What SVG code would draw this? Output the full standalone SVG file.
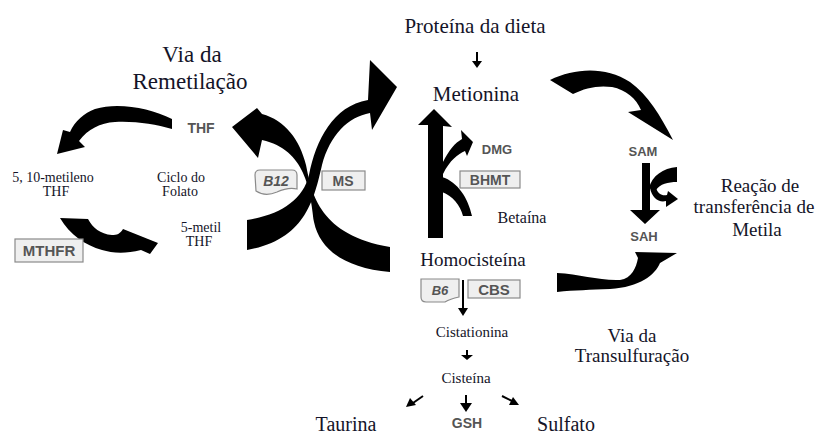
<svg xmlns="http://www.w3.org/2000/svg" width="824" height="436" viewBox="0 0 824 436">
<style>
.s{font-family:"Liberation Serif","Times New Roman",serif;fill:#141428;text-anchor:middle}
.g{font-family:"Liberation Sans",Arial,sans-serif;fill:#555;font-weight:bold;text-anchor:middle}
.box{fill:#efefef;stroke:#8a8a8a;stroke-width:1.2}
.blk{fill:#000}
.ln{stroke:#000;stroke-width:2;fill:none}
</style>
<rect width="824" height="436" fill="#fff"/>

<g id="connectors">
  <path class="blk" d="M247,220 C280,215 303,200 309,175 C316,140 333,106 368,100 L370,60 L397,87 L372,130 L370,113 C348,117 330,135 322,165 C314,200 305,240 247,250 Z"/>
  <path class="blk" d="M232,127 L257,108 L262,114 C285,120 300,140 306,165 C312,195 320,235 390,247 L390,272 C345,268 320,250 314,222 C310,190 306,150 262,140 L258,158 Z"/>
  <path class="blk" d="M172,119 C150,108 118,102 95,109 C84,113 75,121 70,132 L63,130 L57,154 L85,147 L79,141 C88,129 100,123 115,122 C135,121 155,124 172,129 Z"/>
  <path class="blk" d="M60,218 L88,219 C93,228 100,234 112,235 C117,235 120,234 123,229 L158,243 L150,254 L141,250 C125,254 112,253 102,250 C85,245 70,235 60,218 Z"/>
  <path class="blk" d="M428,238 L428,125 L418,125 L434,109 L452,127 L443,126 L443,238 Z"/>
  <path class="blk" d="M443,162 C449,150 455,143 462,139 L461,130 L473,142 L467,156 L465,151 C458,154 450,160 443,174 Z"/>
  <path class="blk" d="M442,177 C458,182 468,198 472,216 L463,216 C460,205 453,196 442,192 Z"/>
  <path class="blk" d="M550,80 C575,68 605,66 630,82 C648,95 660,115 673,140 L628,112 L641,110 C636,98 626,90 612,87 C598,85 585,88 573,94 Z"/>
  <path class="blk" d="M642,163 L650,163 L650,210 L660,210 L645,224 L630,210 L642,210 Z"/>
  <path class="blk" d="M677,167 C663,168 652,176 649,188 L656,190 C660,184 668,182 677,182 Z"/>
  <path class="blk" d="M650,188 C652,198 659,203 666,201 L666,207 L678,199 L668,191 L667,195 C662,196 658,194 656,188 Z"/>
  <path class="blk" d="M557,273 C580,274 600,281 620,280 C632,278 636,268 638,258 L635,252 L677,253 L660,263 C655,275 640,287 610,289 C590,290 575,290 557,292 Z"/>
  <line class="ln" x1="477" y1="52" x2="477" y2="62"/>
  <path class="blk" d="M472,61 L482,61 L477,68 Z"/>
  <line class="ln" x1="463" y1="280" x2="463" y2="309"/>
  <path class="blk" d="M458,308 L468,308 L463,316 Z"/>
  <line class="ln" x1="467" y1="350" x2="467" y2="356"/>
  <path class="blk" d="M461,355 L473,355 L467,360 Z"/>
  <line class="ln" x1="466" y1="395" x2="466" y2="404"/>
  <path class="blk" d="M460,403 L472,403 L466,412 Z"/>
  <line class="ln" x1="423" y1="396" x2="413" y2="403"/>
  <path class="blk" d="M406,407 L410,398 L416,405 Z"/>
  <line class="ln" x1="502" y1="396" x2="512" y2="401"/>
  <path class="blk" d="M519,405 L509,405 L513,397 Z"/>
</g>

<g id="n-proteina"><text class="s" x="475" y="33" font-size="21">Proteína da dieta</text></g>
<g id="n-remetilacao"><text class="s" x="192" y="62" font-size="23">Via da</text><text class="s" x="190" y="89" font-size="23">Remetilação</text></g>
<g id="n-metionina"><text class="s" x="476" y="101" font-size="21">Metionina</text></g>
<g id="n-thf"><text class="g" x="201" y="133" font-size="14">THF</text></g>
<g id="n-metileno"><text class="s" x="53" y="182" font-size="14">5, 10-metileno</text><text class="s" x="56" y="196" font-size="14">THF</text></g>
<g id="n-folato"><text class="s" x="181" y="182" font-size="14">Ciclo do</text><text class="s" x="180" y="196" font-size="14">Folato</text></g>
<g id="n-metil"><text class="s" x="201" y="232" font-size="14">5-metil</text><text class="s" x="199" y="246" font-size="14">THF</text></g>
<g id="n-mthfr"><rect class="box" x="15" y="239" width="68" height="23"/><text class="g" x="49" y="256" font-size="15">MTHFR</text></g>
<g id="n-b12"><path class="box" d="M260,170 H292 Q297,170 297,175 V189 Q288,187 277,192 Q265,197 256,191 L255,175 Q255,170 260,170 Z"/><text class="g" x="276" y="186" font-size="14" font-style="italic">B12</text></g>
<g id="n-ms"><rect class="box" x="322" y="171" width="43" height="19"/><text class="g" x="343" y="186" font-size="14">MS</text></g>
<g id="n-dmg"><text class="g" x="497" y="154" font-size="13">DMG</text></g>
<g id="n-bhmt"><rect class="box" x="460" y="171" width="60" height="17"/><text class="g" x="490" y="185" font-size="14">BHMT</text></g>
<g id="n-betaina"><text class="s" x="522" y="223" font-size="16">Betaína</text></g>
<g id="n-homocisteina"><text class="s" x="473" y="266" font-size="19">Homocisteína</text></g>
<g id="n-b6"><path class="box" d="M421,279 H459 V297 Q450,299 445,302 H426 Q421,302 421,297 Z"/><text class="g" x="440" y="295" font-size="13" font-style="italic">B6</text></g>
<g id="n-cbs"><rect class="box" x="468" y="280" width="52" height="18"/><text class="g" x="494" y="295" font-size="15">CBS</text></g>
<g id="n-cistationina"><text class="s" x="472" y="337" font-size="15">Cistationina</text></g>
<g id="n-cisteina"><text class="s" x="466" y="383" font-size="15">Cisteína</text></g>
<g id="n-gsh"><text class="g" x="467" y="428" font-size="14">GSH</text></g>
<g id="n-taurina"><text class="s" x="346" y="431" font-size="20">Taurina</text></g>
<g id="n-sulfato"><text class="s" x="566" y="431" font-size="20">Sulfato</text></g>
<g id="n-transulfuracao"><text class="s" x="632" y="342" font-size="19">Via da</text><text class="s" x="632" y="362" font-size="19">Transulfuração</text></g>
<g id="n-sam"><text class="g" x="643" y="156" font-size="13">SAM</text></g>
<g id="n-sah"><text class="g" x="644" y="241" font-size="13">SAH</text></g>
<g id="n-metila"><text class="s" x="760" y="192" font-size="19">Reação de</text><text class="s" x="754" y="213" font-size="19">transferência de</text><text class="s" x="757" y="236" font-size="19">Metila</text></g>
</svg>
